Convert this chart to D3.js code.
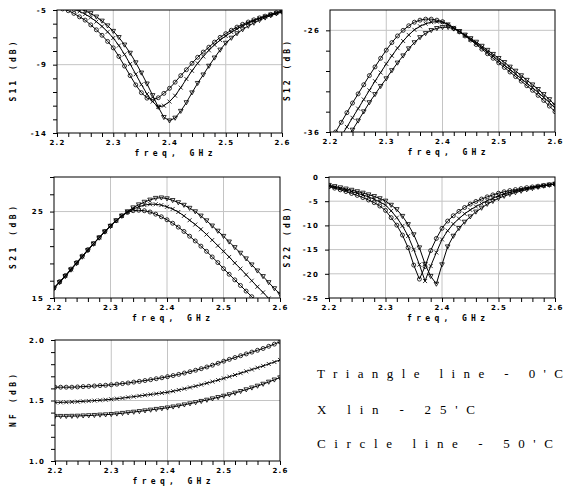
<!DOCTYPE html>
<html lang="en">
<head>
<meta charset="UTF-8">
<title>LNA S-parameters and NF vs temperature</title>
<script src="https://d3js.org/d3.v7.min.js"></script>
<style>
    body { margin: 0; background: #fff; }
    .tick text { font-family: "DejaVu Sans", sans-serif; font-weight: bold; font-size: 7px; letter-spacing: 1.2px; fill: #000; }
    .tick line { stroke: #000; }
    .grid { stroke: #c4c4c4; stroke-width: 1; }
    .frame { fill: none; stroke: #000; stroke-width: 1; }
    .curve { fill: none; stroke: #000; stroke-width: 1; }
    .mark { fill: none; stroke: #000; stroke-width: 0.8; }
    .atitle { font-family: "DejaVu Sans Mono", monospace; font-weight: bold; font-size: 8px; fill: #000; }
    .legend { font-family: "Liberation Serif", serif; font-size: 13px; fill: #000; }
</style>
</head>
<body>
<script>
    // frequency points, GHz
    const freq = [2.20, 2.21, 2.22, 2.23, 2.24, 2.25, 2.26, 2.27, 2.28, 2.29,
        2.30, 2.31, 2.32, 2.33, 2.34, 2.35, 2.36, 2.37, 2.38, 2.39,
        2.40, 2.41, 2.42, 2.43, 2.44, 2.45, 2.46, 2.47, 2.48, 2.49,
        2.50, 2.51, 2.52, 2.53, 2.54, 2.55, 2.56, 2.57, 2.58, 2.59, 2.60];

    // S11 (dB): triangle = 0'C, x = 25'C, circle = 50'C
    const s11Tri = [-4.3, -4.45, -4.6, -4.75, -4.9, -5.05, -5.25, -5.5, -5.8, -6.15,
        -6.55, -7.0, -7.55, -8.15, -8.85, -9.6, -10.4, -11.25, -12.1, -12.85,
        -13.1, -12.9, -12.4, -11.77, -11.05, -10.36, -9.74, -9.1, -8.5, -7.92,
        -7.42, -7.05, -6.72, -6.43, -6.17, -5.95, -5.75, -5.57, -5.41, -5.27, -5.14];
    const s11X = [-4.5, -4.65, -4.8, -4.95, -5.1, -5.3, -5.55, -5.85, -6.2, -6.6,
        -7.05, -7.6, -8.25, -8.95, -9.7, -10.45, -11.15, -11.7, -12.1, -12.0,
        -11.7, -11.27, -10.68, -10.05, -9.45, -8.9, -8.4, -7.95, -7.55, -7.2,
        -6.9, -6.62, -6.38, -6.15, -5.95, -5.78, -5.62, -5.47, -5.34, -5.22, -5.12];
    const s11Cir = [-4.8, -4.92, -5.05, -5.25, -5.5, -5.74, -6.09, -6.45, -6.85, -7.3,
        -7.77, -8.4, -9.1, -9.8, -10.48, -11.05, -11.45, -11.55, -11.42, -11.1,
        -10.73, -10.28, -9.8, -9.37, -8.9, -8.46, -8.08, -7.72, -7.35, -7.0,
        -6.73, -6.48, -6.25, -6.05, -5.88, -5.72, -5.58, -5.45, -5.32, -5.2, -5.08];

    // S12 (dB)
    const s12Tri = [-39.2, -38.3, -37.5, -36.6, -35.8, -34.9, -34.0, -33.1, -32.3, -31.5,
        -30.75, -29.95, -29.2, -28.5, -27.8, -27.2, -26.7, -26.3, -26.0, -25.8,
        -25.7, -25.7, -25.85, -26.1, -26.45, -26.8, -27.15, -27.55, -27.95, -28.35,
        -28.75, -29.15, -29.6, -30.0, -30.45, -30.9, -31.35, -31.8, -32.3, -32.8, -33.35];
    const s12X = [-38.2, -37.3, -36.4, -35.5, -34.6, -33.7, -32.8, -31.9, -31.0, -30.15,
        -29.3, -28.5, -27.75, -27.05, -26.45, -25.95, -25.6, -25.35, -25.2, -25.15,
        -25.2, -25.4, -25.75, -26.1, -26.5, -26.9, -27.3, -27.7, -28.15, -28.55,
        -29.0, -29.45, -29.85, -30.3, -30.75, -31.2, -31.65, -32.1, -32.6, -33.1, -33.65];
    const s12Cir = [-37.0, -36.0, -35.05, -34.1, -33.15, -32.25, -31.35, -30.45, -29.6, -28.75,
        -27.95, -27.2, -26.55, -26.0, -25.55, -25.2, -25.0, -24.9, -24.9, -25.0,
        -25.15, -25.45, -25.8, -26.15, -26.55, -26.95, -27.4, -27.85, -28.3, -28.75,
        -29.2, -29.65, -30.1, -30.55, -31.0, -31.45, -31.9, -32.4, -32.9, -33.45, -34.0];

    // S21 (dB)
    const s21Tri = [16.1, 16.8, 17.5, 18.25, 19.0, 19.75, 20.5, 21.25, 21.95, 22.65,
        23.3, 23.95, 24.5, 25.0, 25.45, 25.8, 26.1, 26.35, 26.55, 26.6,
        26.5, 26.3, 26.05, 25.75, 25.4, 25.0, 24.5, 23.95, 23.35, 22.75,
        22.15, 21.5, 20.85, 20.2, 19.55, 18.85, 18.15, 17.5, 16.8, 16.1, 15.45];
    const s21X = [16.15, 16.85, 17.55, 18.3, 19.05, 19.8, 20.55, 21.3, 22.0, 22.7,
        23.35, 23.95, 24.5, 24.95, 25.3, 25.55, 25.75, 25.85, 25.85, 25.75,
        25.55, 25.3, 24.95, 24.5, 24.0, 23.5, 22.95, 22.35, 21.7, 21.05,
        20.4, 19.75, 19.05, 18.4, 17.7, 17.0, 16.3, 15.65, 14.95, 14.3, 13.6];
    const s21Cir = [16.2, 16.9, 17.6, 18.35, 19.1, 19.85, 20.6, 21.3, 22.0, 22.7,
        23.35, 23.95, 24.5, 24.9, 25.1, 25.15, 25.1, 24.95, 24.7, 24.4,
        24.05, 23.65, 23.2, 22.7, 22.15, 21.6, 21.0, 20.4, 19.75, 19.1,
        18.4, 17.75, 17.1, 16.45, 15.8, 15.15, 14.5, 13.85, 13.2, 12.55, 11.9];

    // S22 (dB)
    const s22Tri = [-1.7, -1.95, -2.2, -2.45, -2.7, -3.0, -3.3, -3.65, -4.0, -4.45,
        -4.95, -5.8, -6.7, -8.1, -9.8, -11.9, -14.6, -18.0, -20.5, -22.1,
        -18.1, -14.4, -12.2, -10.6, -9.3, -8.2, -7.2, -6.4, -5.6, -5.0,
        -4.4, -3.95, -3.55, -3.2, -2.9, -2.6, -2.35, -2.1, -1.85, -1.65, -1.45];
    const s22X = [-1.85, -2.1, -2.4, -2.7, -3.0, -3.35, -3.7, -4.1, -4.6, -5.15,
        -5.8, -7.0, -8.4, -10.1, -12.2, -15.0, -18.1, -21.5, -18.4, -15.6,
        -12.9, -11.1, -9.7, -8.6, -7.6, -6.8, -6.1, -5.5, -4.9, -4.4,
        -3.9, -3.5, -3.2, -2.9, -2.65, -2.4, -2.2, -2.0, -1.8, -1.6, -1.45];
    const s22Cir = [-2.0, -2.3, -2.65, -3.0, -3.4, -3.8, -4.25, -4.75, -5.3, -6.0,
        -6.9, -8.4, -9.95, -12.0, -14.6, -18.2, -21.1, -18.5, -15.2, -12.7,
        -10.6, -9.1, -8.0, -7.1, -6.3, -5.6, -5.05, -4.55, -4.1, -3.7,
        -3.35, -3.05, -2.8, -2.6, -2.4, -2.2, -2.05, -1.9, -1.75, -1.6, -1.45];

    // NF (dB)
    const nfTri = [1.37, 1.37, 1.37, 1.371, 1.372, 1.374, 1.376, 1.378, 1.381, 1.383,
        1.386, 1.39, 1.395, 1.4, 1.405, 1.41, 1.416, 1.422, 1.428, 1.434,
        1.44, 1.448, 1.456, 1.465, 1.474, 1.484, 1.494, 1.504, 1.515, 1.526,
        1.537, 1.549, 1.562, 1.576, 1.59, 1.605, 1.62, 1.636, 1.653, 1.671, 1.689];
    const nfX = [1.485, 1.485, 1.486, 1.488, 1.49, 1.493, 1.496, 1.499, 1.502, 1.506,
        1.51, 1.515, 1.52, 1.526, 1.532, 1.538, 1.544, 1.55, 1.556, 1.562,
        1.568, 1.577, 1.587, 1.597, 1.608, 1.619, 1.631, 1.643, 1.656, 1.669,
        1.683, 1.697, 1.711, 1.726, 1.741, 1.756, 1.771, 1.786, 1.802, 1.818, 1.835];
    const nfCir = [1.61, 1.61, 1.61, 1.61, 1.612, 1.615, 1.617, 1.62, 1.623, 1.626,
        1.63, 1.635, 1.64, 1.645, 1.652, 1.658, 1.665, 1.672, 1.68, 1.688,
        1.697, 1.706, 1.716, 1.727, 1.738, 1.75, 1.763, 1.777, 1.792, 1.808,
        1.825, 1.84, 1.855, 1.87, 1.885, 1.9, 1.915, 1.93, 1.948, 1.966, 1.985];

    // axis labels
    const xLabels = [2.2, 2.3, 2.4, 2.5, 2.6];
    const xGridVals = [2.3, 2.4, 2.5];
    const legendText = ["Triangle line - 0'C", "X lin - 25'C", "Circle line - 50'C"];

    const svg = d3.select("body").append("svg").attr("width", 564).attr("height", 497);

    const near = (arr, v) => arr.some(a => Math.abs(a - v) < 1e-6);
    const xTicks = d3.range(0, 21).map(i => +(2.2 + i * 0.02).toFixed(2));

    const panels = [
        {id: "s11", title: "S11 (dB)", left: 57, right: 282, top: 10, bottom: 133, tlen: 60,
            yDomain: [-14, -5], yTicks: d3.range(-14, -4), yLabels: [-14, -9, -5], yGrid: [-9],
            fmt: d => String(d), series: [s11Tri, s11X, s11Cir]},
        {id: "s12", title: "S12 (dB)", left: 330, right: 555, top: 10, bottom: 132, tlen: 60,
            yDomain: [-36, -24], yTicks: d3.range(-36, -25, 2), yLabels: [-36, -26], yGrid: [-26],
            fmt: d => String(d), series: [s12Tri, s12X, s12Cir]},
        {id: "s21", title: "S21 (dB)", left: 54, right: 280, top: 177, bottom: 298, tlen: 63,
            yDomain: [15, 29], yTicks: d3.range(15, 30, 2), yLabels: [15, 25], yGrid: [25],
            fmt: d => String(d), series: [s21Tri, s21X, s21Cir]},
        {id: "s22", title: "S22 (dB)", left: 329, right: 555, top: 177, bottom: 298, tlen: 60,
            yDomain: [-25, 0], yTicks: [-25, -20, -15, -10, -5, 0], yLabels: [-25, -20, -15, -10, -5, 0],
            yGrid: [-20, -15, -10, -5], fmt: d => String(d), series: [s22Tri, s22X, s22Cir]},
        {id: "nf", title: "NF (dB)", left: 55, right: 280, top: 340, bottom: 461, tlen: 53,
            yDomain: [1.0, 2.0], yTicks: d3.range(0, 11).map(i => +(1 + i * 0.1).toFixed(1)),
            yLabels: [1.0, 1.5, 2.0], yGrid: [1.5], fmt: d => d.toFixed(1), series: [nfTri, nfX, nfCir]}
    ];

    const markers = [
        (g, x, y) => g.append("path").attr("class", "mark")
            .attr("d", `M${x - 2.3},${y - 1.8}L${x + 2.3},${y - 1.8}L${x},${y + 2.3}Z`),
        (g, x, y) => g.append("path").attr("class", "mark")
            .attr("d", `M${x - 2},${y - 2}L${x + 2},${y + 2}M${x - 2},${y + 2}L${x + 2},${y - 2}`),
        (g, x, y) => g.append("circle").attr("class", "mark").attr("cx", x).attr("cy", y).attr("r", 2)
    ];

    panels.forEach(function (p) {
        const x = d3.scaleLinear().domain([2.2, 2.6]).range([p.left, p.right]);
        const y = d3.scaleLinear().domain(p.yDomain).range([p.bottom, p.top]);
        const g = svg.append("g");

        g.selectAll(".vg").data(xGridVals).join("line").attr("class", "grid")
            .attr("x1", d => x(d)).attr("x2", d => x(d)).attr("y1", p.top).attr("y2", p.bottom);
        g.selectAll(".hg").data(p.yGrid).join("line").attr("class", "grid")
            .attr("x1", p.left).attr("x2", p.right).attr("y1", d => y(d)).attr("y2", d => y(d));

        svg.append("clipPath").attr("id", "clip-" + p.id).append("rect")
            .attr("x", p.left).attr("y", p.top).attr("width", p.right - p.left).attr("height", p.bottom - p.top);
        const plot = g.append("g").attr("clip-path", "url(#clip-" + p.id + ")");

        const line = d3.line().x(d => x(d[0])).y(d => y(d[1]));
        p.series.forEach(function (vals, k) {
            const pts = freq.map((f, j) => [f, vals[j]]);
            plot.append("path").datum(pts).attr("class", "curve").attr("d", line);
            pts.forEach(d => markers[k](plot, x(d[0]), y(d[1])));
        });

        g.append("rect").attr("class", "frame")
            .attr("x", p.left).attr("y", p.top).attr("width", p.right - p.left).attr("height", p.bottom - p.top);

        g.append("g").attr("transform", "translate(0," + p.bottom + ")")
            .call(d3.axisBottom(x).tickValues(xTicks).tickSize(4).tickSizeOuter(0).tickPadding(3)
                .tickFormat(d => near(xLabels, d) ? d.toFixed(1) : ""))
            .call(a => a.select(".domain").remove());

        g.append("g").attr("transform", "translate(" + p.left + ",0)")
            .call(d3.axisLeft(y).tickValues(p.yTicks).tickSize(4).tickSizeOuter(0).tickPadding(6)
                .tickFormat(d => near(p.yLabels, d) ? p.fmt(d) : ""))
            .call(a => a.select(".domain").remove());

        const xt = p.left < 200 ? 13 : 287;
        g.append("text").attr("class", "atitle")
            .attr("transform", "translate(" + xt + "," + (p.top + p.bottom) / 2 + ") rotate(-90)")
            .attr("text-anchor", "middle").attr("dy", "0.35em")
            .attr("textLength", p.tlen).attr("lengthAdjust", "spacing")
            .text(p.title);

        g.append("text").attr("class", "atitle")
            .attr("x", (p.left + p.right) / 2 + 4).attr("y", p.bottom + 23)
            .attr("text-anchor", "middle")
            .attr("textLength", 78).attr("lengthAdjust", "spacing")
            .text("freq, GHz");
    });

    const legendY = [378, 414, 448];
    const legendW = [246, 158, 236];
    svg.selectAll(".legend").data(legendText).join("text").attr("class", "legend")
        .attr("x", 317).attr("y", (d, i) => legendY[i])
        .attr("textLength", (d, i) => legendW[i]).attr("lengthAdjust", "spacing")
        .text(d => d);
</script>
</body>
</html>
